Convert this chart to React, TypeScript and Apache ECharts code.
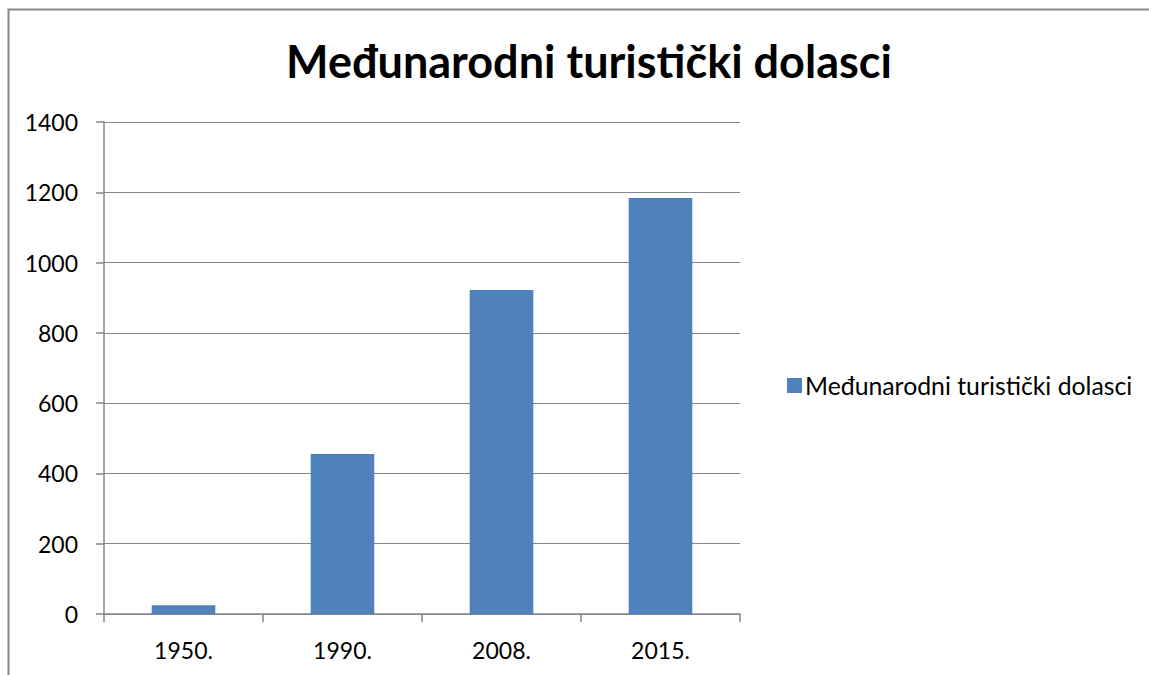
import React, { useEffect, useRef } from "react";
import * as echarts from "echarts";

const titleText = "Međunarodni turistički dolasci";
const seriesName = "Međunarodni turistički dolasci";
const categories = ["1950.", "1990.", "2008.", "2015."];
const values = [25, 455, 922, 1184];
const yMin = 0;
const yMax = 1400;
const yInterval = 200;

export default function App() {
  const ref = useRef<HTMLDivElement>(null);
  useEffect(() => {
    if (!ref.current) return;
    const chart = echarts.init(ref.current, undefined, { renderer: "svg" });
    const font = "Lato, 'Open Sans', sans-serif";
    chart.setOption({
      animation: false,
      backgroundColor: "#ffffff",
      title: {
        text: titleText,
        left: 584,
        textAlign: "center",
        top: 33,
        textStyle: { fontFamily: font, fontSize: 45, fontWeight: "bold", color: "#000000" },
      },
      legend: {
        orient: "vertical",
        left: 782,
        top: 368,
        itemWidth: 15,
        itemHeight: 15,
        itemGap: 10,
        icon: "rect",
        textStyle: { fontFamily: font, fontSize: 24.8, color: "#000000", padding: [0, 0, 0, -2] },
        data: [seriesName],
      },
      graphic: [
        {
          type: "rect",
          shape: { x: 8.5, y: 9.5, width: 1300, height: 800 },
          style: { fill: "none", stroke: "#878787", lineWidth: 2 },
          silent: true,
        },
      ],
      grid: { left: 104, right: 409, top: 122, bottom: 61, containLabel: false },
      xAxis: {
        type: "category",
        data: categories,
        axisLine: { lineStyle: { color: "#868686", width: 1.5 } },
        axisTick: { show: true, length: 8, alignWithLabel: false, lineStyle: { color: "#868686", width: 1.5 } },
        axisLabel: { fontFamily: font, fontSize: 23, color: "#000000", margin: 24 },
      },
      yAxis: {
        type: "value",
        min: yMin,
        max: yMax,
        interval: yInterval,
        axisLine: { show: true, lineStyle: { color: "#868686", width: 1.5 } },
        axisTick: { show: true, length: 8, lineStyle: { color: "#868686", width: 1.5 } },
        splitLine: { show: true, lineStyle: { color: "#868686", width: 1.2 } },
        axisLabel: {
          fontFamily: font,
          fontSize: 23,
          color: "#000000",
          margin: 26,
          formatter: (v: number) => String(v),
        },
      },
      series: [
        {
          name: seriesName,
          type: "bar",
          data: values,
          barWidth: "40%",
          itemStyle: { color: "#4f81bd" },
        },
      ],
    });
    return () => chart.dispose();
  }, []);
  return <div ref={ref} style={{ position: "fixed", left: 0, top: 0, width: 1149, height: 675 }} />;
}
